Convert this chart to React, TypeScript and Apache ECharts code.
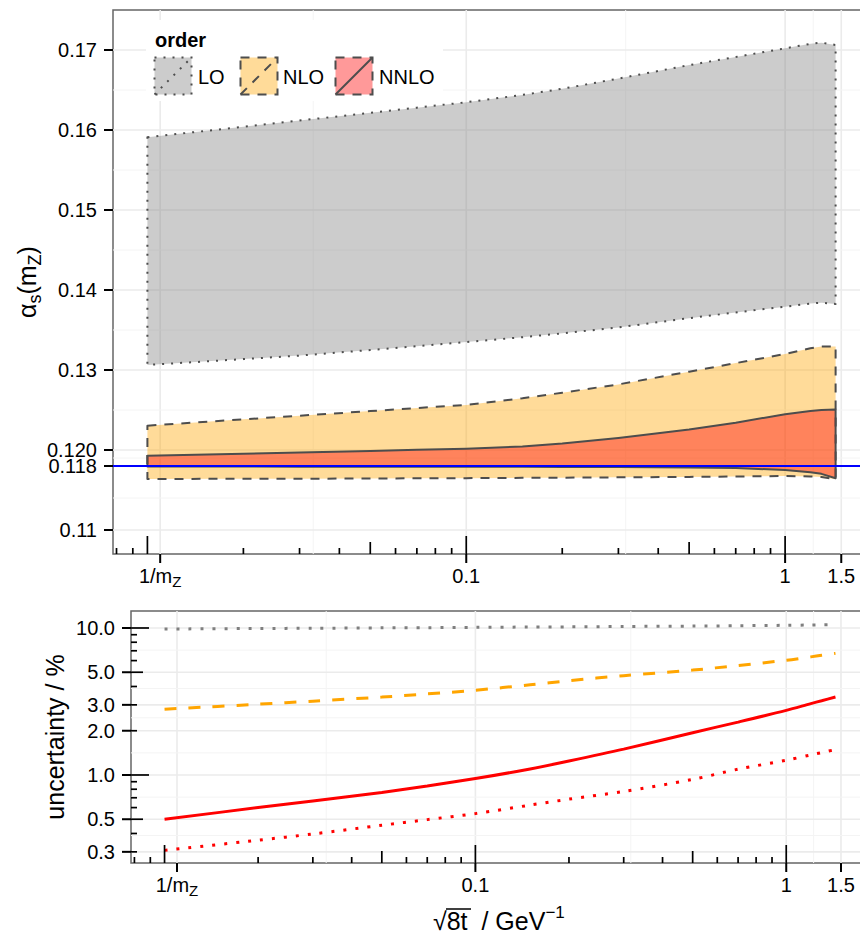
import React, { useEffect, useRef } from 'react';
import * as echarts from 'echarts';

// ---------------- data ----------------
const MZ = 91.1876;

// sqrt(8t) in GeV^-1
const flowScale = [0.01, 0.02, 0.03, 0.05, 0.07, 0.1, 0.15, 0.2, 0.3, 0.5, 0.7, 1.0, 1.2, 1.3, 1.44];

// alpha_s(mZ) bands (top panel)
const loUpper = [0.15909, 0.16041, 0.16118, 0.16215, 0.16279, 0.16347, 0.16439, 0.16515, 0.16643, 0.16811, 0.16913, 0.17021, 0.17077, 0.17092, 0.17063];
const loLower = [0.13063, 0.13136, 0.1318, 0.1325, 0.13298, 0.13349, 0.1341, 0.13458, 0.13532, 0.13648, 0.1372, 0.13791, 0.13831, 0.13842, 0.13825];
const nloUpper = [0.12304, 0.12383, 0.12429, 0.12486, 0.12524, 0.12564, 0.12646, 0.12716, 0.1282, 0.12979, 0.13086, 0.132, 0.13272, 0.13294, 0.13295];
const nloLower = [0.11638, 0.1164, 0.11641, 0.11644, 0.11646, 0.11648, 0.11652, 0.11654, 0.11658, 0.11664, 0.11669, 0.11675, 0.1167, 0.11662, 0.11634];
const nnloUpper = [0.11929, 0.11954, 0.11968, 0.11989, 0.12002, 0.12017, 0.12045, 0.12082, 0.12151, 0.12255, 0.1234, 0.12448, 0.12487, 0.12499, 0.12505];
const nnloLower = [0.11793, 0.11793, 0.11792, 0.11792, 0.11791, 0.11791, 0.1179, 0.11789, 0.11788, 0.11782, 0.11775, 0.1175, 0.11722, 0.11702, 0.11646];
const alphaRef = 0.118;

// relative uncertainty in % (bottom panel)
const uncLO = [9.84, 9.92, 9.96, 10.02, 10.05, 10.1, 10.15, 10.18, 10.24, 10.3, 10.36, 10.43, 10.48, 10.51, 10.54];
const uncNLO = [2.8, 3.03, 3.18, 3.39, 3.56, 3.77, 4.11, 4.38, 4.74, 5.17, 5.56, 6.03, 6.36, 6.52, 6.72];
const uncNNLO = [0.5, 0.6, 0.666, 0.761, 0.841, 0.945, 1.1, 1.245, 1.5, 1.94, 2.29, 2.75, 3.06, 3.2, 3.39];
const uncNNLOdot = [0.307, 0.36, 0.397, 0.455, 0.497, 0.546, 0.624, 0.685, 0.772, 0.933, 1.095, 1.26, 1.37, 1.42, 1.49];

// axis breaks and labels
const xBreaks = [1 / MZ, 0.1, 1, 1.5];
const xBreakLabels = ['{b|1/m}{s|Z}', '0.1', '1', '1.5'];
const yTopBreaks = [0.11, 0.118, 0.12, 0.13, 0.14, 0.15, 0.16, 0.17];
const yTopLabels = ['0.11', '0.118', '0.120', '0.13', '0.14', '0.15', '0.16', '0.17'];
const yBotBreaks = [0.3, 0.5, 1, 2, 3, 5, 10];
const yBotLabels = ['0.3', '0.5', '1.0', '2.0', '3.0', '5.0', '10.0'];
const logDecades = [0.001, 0.01, 0.1, 1, 10];
const logMinorMult = [2, 3, 4, 6, 7, 8, 9];

// ---------------- layout / style ----------------
const X_MIN = 0.0078;
const X_MAX = 1.846;
const Y_TOP_MIN = 0.107;
const Y_TOP_MAX = 0.175;
const Y_BOT_MIN = 0.2519;
const Y_BOT_MAX = 13.05;

const FONT = '"Liberation Sans", Arial, Helvetica, sans-serif';
const OUTLINE = '#4d4d4d';
const LO_FILL = 'rgba(127,127,127,0.4)';
const NLO_FILL = 'rgba(255,165,0,0.4)';
const NNLO_FILL = 'rgba(255,0,0,0.4)';
const DOT = [2, 7];
const DASH = [9, 8];
const GRID_MAJOR = '#ebebeb';
const GRID_MINOR = '#f4f4f4';
const TICK = 9;

const inRange = (vals: number[], lo: number, hi: number) => vals.filter((v) => v >= lo && v <= hi);
const geoMid = (a: number[]) => a.slice(1).map((v, i) => Math.sqrt(v * a[i]));
const linMid = (a: number[]) => a.slice(1).map((v, i) => (v + a[i]) / 2);

const logMajor = logDecades;
const logMid = logDecades.map((d) => 5 * d);
const logMinor = logDecades.flatMap((d) => logMinorMult.map((m) => m * d));

const subRich = {
  b: { fontSize: 20, fontFamily: FONT, lineHeight: 20, verticalAlign: 'top', fill: '#000' },
  s: { fontSize: 15, fontFamily: FONT, lineHeight: 23, verticalAlign: 'bottom', fill: '#000' },
};

function vLines(xi: number, vals: number[], yRef: number, color: string, width: number) {
  return {
    type: 'custom', xAxisIndex: xi, yAxisIndex: xi, z: 1, silent: true, clip: false,
    data: vals.map((v) => [v, yRef]),
    renderItem: (params: any, api: any) => {
      const cs = params.coordSys;
      const x = api.coord([api.value(0), yRef])[0];
      return { type: 'line', shape: { x1: x, y1: cs.y, x2: x, y2: cs.y + cs.height }, style: { stroke: color, lineWidth: width } };
    },
  };
}

function hLines(yi: number, vals: number[], xRef: number, color: string, width: number) {
  return {
    type: 'custom', xAxisIndex: yi, yAxisIndex: yi, z: 1, silent: true, clip: false,
    data: vals.map((v) => [xRef, v]),
    renderItem: (params: any, api: any) => {
      const cs = params.coordSys;
      const y = api.coord([xRef, api.value(1)])[1];
      return { type: 'line', shape: { x1: cs.x, y1: y, x2: cs.x + cs.width, y2: y }, style: { stroke: color, lineWidth: width } };
    },
  };
}

function band(name: string, upper: number[], lower: number[], fill: string, dash: number[] | null, z: number) {
  return {
    type: 'custom', name, xAxisIndex: 0, yAxisIndex: 0, z, silent: true, clip: false,
    data: flowScale.map((t, i) => [t, lower[i], upper[i]]),
    renderItem: (params: any, api: any) => {
      if (params.dataIndex !== 0) return null;
      const pts: number[][] = [];
      for (let i = 0; i < flowScale.length; i++) pts.push(api.coord([flowScale[i], upper[i]]));
      for (let i = flowScale.length - 1; i >= 0; i--) pts.push(api.coord([flowScale[i], lower[i]]));
      const style: any = { fill, stroke: OUTLINE, lineWidth: 2, lineJoin: 'round' };
      if (dash) style.lineDash = dash;
      return { type: 'polygon', shape: { points: pts }, style };
    },
  };
}

function xTicks(idx: number, yRef: number) {
  return {
    type: 'custom', xAxisIndex: idx, yAxisIndex: idx, z: 10, silent: true, clip: false,
    data: xBreaks.map((v) => [v, yRef]),
    renderItem: (params: any, api: any) => {
      const cs = params.coordSys;
      const x = api.coord([api.value(0), yRef])[0];
      const yb = cs.y + cs.height;
      return {
        type: 'group',
        children: [
          { type: 'line', shape: { x1: x, y1: yb, x2: x, y2: yb + TICK }, style: { stroke: '#000', lineWidth: 2 } },
          {
            type: 'text', x, y: yb + 12,
            style: {
              text: xBreakLabels[params.dataIndex], rich: subRich, fill: '#000', fontSize: 20, fontFamily: FONT,
              lineHeight: 20, align: 'center', verticalAlign: 'top',
            },
          },
        ],
      };
    },
  };
}

function yTicks(idx: number, xRef: number, breaks: number[], labels: string[]) {
  return {
    type: 'custom', xAxisIndex: idx, yAxisIndex: idx, z: 10, silent: true, clip: false,
    data: breaks.map((v) => [xRef, v]),
    renderItem: (params: any, api: any) => {
      const cs = params.coordSys;
      const y = api.coord([xRef, api.value(1)])[1];
      return {
        type: 'group',
        children: [
          { type: 'line', shape: { x1: cs.x - TICK, y1: y, x2: cs.x, y2: y }, style: { stroke: '#000', lineWidth: 2 } },
          {
            type: 'text', x: cs.x - 16, y,
            style: { text: labels[params.dataIndex], fill: '#000', fontSize: 20, fontFamily: FONT, align: 'right', verticalAlign: 'middle' },
          },
        ],
      };
    },
  };
}

function xLogTicks(idx: number, yRef: number, vals: number[], len: number) {
  return {
    type: 'custom', xAxisIndex: idx, yAxisIndex: idx, z: 10, silent: true, clip: false,
    data: inRange(vals, X_MIN, X_MAX).map((v) => [v, yRef]),
    renderItem: (params: any, api: any) => {
      const cs = params.coordSys;
      const x = api.coord([api.value(0), yRef])[0];
      const yb = cs.y + cs.height;
      return { type: 'line', shape: { x1: x, y1: yb, x2: x, y2: yb - len }, style: { stroke: '#000', lineWidth: 1.7 } };
    },
  };
}

function yLogTicks(idx: number, xRef: number, vals: number[], len: number) {
  return {
    type: 'custom', xAxisIndex: idx, yAxisIndex: idx, z: 10, silent: true, clip: false,
    data: inRange(vals, Y_BOT_MIN, Y_BOT_MAX).map((v) => [xRef, v]),
    renderItem: (params: any, api: any) => {
      const cs = params.coordSys;
      const y = api.coord([xRef, api.value(1)])[1];
      return { type: 'line', shape: { x1: cs.x, y1: y, x2: cs.x + len, y2: y }, style: { stroke: '#000', lineWidth: 1.7 } };
    },
  };
}

function uncLine(name: string, vals: number[], color: string, dash: number[] | 'solid') {
  return {
    type: 'line', name, xAxisIndex: 1, yAxisIndex: 1, z: 5, silent: true,
    data: flowScale.map((t, i) => [t, vals[i]]),
    showSymbol: false, symbol: 'none', smooth: 0.3,
    lineStyle: { color, width: 3, type: dash, cap: 'butt' },
  };
}

const hiddenAxis = {
  axisLine: { show: false }, axisTick: { show: false }, axisLabel: { show: false }, splitLine: { show: false },
};

function buildOption(): any {
  const legendItems = [
    { label: 'LO', x: 154.5, fill: LO_FILL, dash: DOT, diag: DOT, tx: 198 },
    { label: 'NLO', x: 240.5, fill: NLO_FILL, dash: DASH, diag: DASH, tx: 283 },
    { label: 'NNLO', x: 335.5, fill: NNLO_FILL, dash: DASH, diag: null, tx: 379 },
  ];
  const legendGraphics: any[] = [
    { type: 'rect', z: 100, shape: { x: 146, y: 20, width: 297, height: 81 }, style: { fill: '#ffffff' } },
    { type: 'text', z: 101, x: 155, y: 40, style: { text: 'order', fontSize: 20, fontWeight: 'bold', fontFamily: FONT, fill: '#000', align: 'left', verticalAlign: 'middle' } },
  ];
  legendItems.forEach((it) => {
    const rs: any = { fill: it.fill, stroke: OUTLINE, lineWidth: 2, lineDash: it.dash };
    const ls: any = { stroke: OUTLINE, lineWidth: 2 };
    if (it.diag) ls.lineDash = it.diag;
    legendGraphics.push(
      { type: 'rect', z: 101, shape: { x: it.x, y: 57.5, width: 37, height: 37 }, style: rs },
      { type: 'line', z: 102, shape: { x1: it.x, y1: 94.5, x2: it.x + 37, y2: 57.5 }, style: ls },
      { type: 'text', z: 102, x: it.tx, y: 76.5, style: { text: it.label, fontSize: 20, fontFamily: FONT, fill: '#000', align: 'left', verticalAlign: 'middle' } },
    );
  });

  const titleGraphics: any[] = [
    {
      type: 'text', z: 100, x: 29, y: 282, rotation: Math.PI / 2,
      style: {
        text: '{m|α}{s|s}{m|(m}{s|Z}{m|)}', align: 'center', verticalAlign: 'middle',
        rich: {
          m: { fontSize: 25, fontFamily: FONT, lineHeight: 25, verticalAlign: 'top', fill: '#000' },
          s: { fontSize: 18, fontFamily: FONT, lineHeight: 29, verticalAlign: 'bottom', fill: '#000' },
        },
      },
    },
    {
      type: 'text', z: 100, x: 55, y: 737, rotation: Math.PI / 2,
      style: { text: 'uncertainty / %', fontSize: 25, fontFamily: FONT, fill: '#000', align: 'center', verticalAlign: 'middle' },
    },
    {
      type: 'text', z: 100, x: 433, y: 933,
      style: {
        text: '{m|√8t  / GeV}{p|−1}', align: 'left', verticalAlign: 'bottom',
        rich: {
          m: { fontSize: 25, fontFamily: FONT, lineHeight: 29, verticalAlign: 'bottom', fill: '#000' },
          p: { fontSize: 17, fontFamily: FONT, lineHeight: 17, verticalAlign: 'top', fill: '#000' },
        },
      },
    },
    { type: 'line', z: 100, shape: { x1: 446, y1: 909, x2: 471, y2: 909 }, style: { stroke: '#000', lineWidth: 1.5 } },
  ];

  return {
    animation: false,
    backgroundColor: '#ffffff',
    grid: [
      { left: 113, top: 10, width: 757, height: 544, show: true, borderColor: '#666', borderWidth: 1.5, backgroundColor: 'transparent', containLabel: false, outerBoundsMode: 'none' },
      { left: 131, top: 611, width: 738, height: 252, show: true, borderColor: '#666', borderWidth: 1.5, backgroundColor: 'transparent', containLabel: false, outerBoundsMode: 'none' },
    ],
    xAxis: [
      { type: 'log', logBase: 10, gridIndex: 0, min: X_MIN, max: X_MAX, ...hiddenAxis },
      { type: 'log', logBase: 10, gridIndex: 1, min: X_MIN, max: X_MAX, ...hiddenAxis },
    ],
    yAxis: [
      { type: 'value', gridIndex: 0, min: Y_TOP_MIN, max: Y_TOP_MAX, ...hiddenAxis },
      { type: 'log', logBase: 10, gridIndex: 1, min: Y_BOT_MIN, max: Y_BOT_MAX, ...hiddenAxis },
    ],
    graphic: [...legendGraphics, ...titleGraphics],
    series: [
      // top panel grid
      vLines(0, geoMid(xBreaks), 0.12, GRID_MINOR, 1),
      vLines(0, xBreaks, 0.12, GRID_MAJOR, 1.6),
      hLines(0, linMid(yTopBreaks), 0.1, GRID_MINOR, 1),
      hLines(0, yTopBreaks, 0.1, GRID_MAJOR, 1.6),
      // bands
      band('LO', loUpper, loLower, LO_FILL, DOT, 2),
      band('NLO', nloUpper, nloLower, NLO_FILL, DASH, 3),
      band('NNLO', nnloUpper, nnloLower, NNLO_FILL, null, 4),
      {
        type: 'line', name: 'ref', xAxisIndex: 0, yAxisIndex: 0, z: 5, silent: true,
        data: [[X_MIN, alphaRef], [X_MAX, alphaRef]], showSymbol: false, symbol: 'none',
        lineStyle: { color: '#0000ff', width: 2.2 },
      },
      xTicks(0, 0.12),
      yTicks(0, 0.1, yTopBreaks, yTopLabels),
      xLogTicks(0, 0.12, logMajor, 18),
      xLogTicks(0, 0.12, logMid, 12),
      xLogTicks(0, 0.12, logMinor, 6),
      // bottom panel grid
      vLines(1, geoMid(xBreaks), 1, GRID_MINOR, 1),
      vLines(1, xBreaks, 1, GRID_MAJOR, 1.6),
      hLines(1, geoMid(yBotBreaks), 0.1, GRID_MINOR, 1),
      hLines(1, yBotBreaks, 0.1, GRID_MAJOR, 1.6),
      uncLine('LO', uncLO, '#7f7f7f', [3, 9]),
      uncLine('NLO', uncNLO, '#ffa500', [12, 12]),
      uncLine('NNLO', uncNNLO, '#ff0000', 'solid'),
      uncLine('NNLO alt', uncNNLOdot, '#ff0000', [3, 9]),
      xTicks(1, 1),
      yTicks(1, 0.1, yBotBreaks, yBotLabels),
      xLogTicks(1, 1, logMajor, 18),
      xLogTicks(1, 1, logMid, 12),
      xLogTicks(1, 1, logMinor, 6),
      yLogTicks(1, 0.1, logMajor, 18),
      yLogTicks(1, 0.1, logMid, 12),
      yLogTicks(1, 0.1, logMinor, 6),
    ],
  };
}

export default function App() {
  const ref = useRef<HTMLDivElement>(null);
  useEffect(() => {
    if (!ref.current) return;
    const chart = echarts.init(ref.current, null, { renderer: 'svg', width: 860, height: 933 });
    chart.setOption(buildOption());
    return () => chart.dispose();
  }, []);
  return <div ref={ref} style={{ position: 'fixed', left: 0, top: 0, width: 860, height: 933, background: '#fff' }} />;
}
